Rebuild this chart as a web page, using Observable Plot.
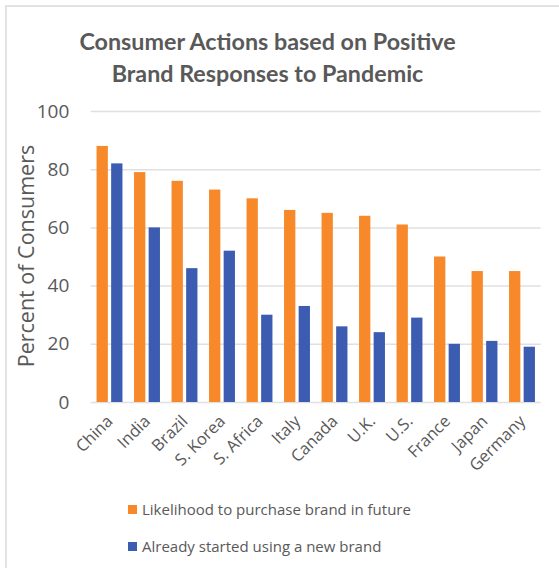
<!DOCTYPE html>
<html>
<head>
<meta charset="utf-8">
<script src="https://cdn.jsdelivr.net/npm/d3@7"></script>
<script src="https://cdn.jsdelivr.net/npm/@observablehq/plot@0.6"></script>
<style>
  html, body { margin: 0; padding: 0; background: #fff; }
  #wrap { position: relative; width: 559px; height: 568px; overflow: hidden; font-family: "Open Sans", sans-serif; color: #595959; }
  #frame { position: absolute; left: 5px; top: 5px; right: -5px; bottom: -5px; border-left: 2px solid #e2e2e2; border-top: 2px solid #e2e2e2; }
  #title { position: absolute; left: 0; top: 25px; width: 535px; text-align: center; font-family: Lato, sans-serif; font-weight: 700; font-size: 23.3px; line-height: 32px; color: #595959; }
  #chart { position: absolute; left: 0; top: 100px; }
  #ylabel { position: absolute; left: 25px; top: 256px; transform: translate(-50%, -50%) rotate(-90deg); white-space: nowrap; font-size: 21.5px; color: #595959; }
  #legend { position: absolute; left: 128px; top: 498px; font-size: 15px; color: #595959; }
  .item { display: flex; align-items: center; height: 22px; margin-bottom: 15px; }
  .sw { width: 9px; height: 9px; margin-right: 5px; }
</style>
</head>
<body>
<div id="wrap">
  <div id="frame"></div>
  <div id="title">Consumer Actions based on Positive<br>Brand Responses to Pandemic</div>
  <div id="chart"></div>
  <div id="ylabel">Percent of Consumers</div>
  <div id="legend"></div>
</div>
<script>
const countries = ["China", "India", "Brazil", "S. Korea", "S. Africa", "Italy", "Canada", "U.K.", "U.S.", "France", "Japan", "Germany"];
const likelihood = [88, 79, 76, 73, 70, 66, 65, 64, 61, 50, 45, 45];
const alreadyStarted = [82, 60, 46, 52, 30, 33, 26, 24, 29, 20, 21, 19];
const seriesNames = ["Likelihood to purchase brand in future", "Already started using a new brand"];
const seriesColors = ["#F7892A", "#3B5CB0"];
const yTicks = [0, 20, 40, 60, 80, 100];

const data = [];
countries.forEach((c, i) => {
  data.push({country: c, series: seriesNames[0], value: likelihood[i]});
  data.push({country: c, series: seriesNames[1], value: alreadyStarted[i]});
});

const chart = Plot.plot({
  width: 559,
  height: 390,
  marginLeft: 90.75,
  marginRight: 18.25,
  marginTop: 11,
  marginBottom: 88,
  style: {fontFamily: "Open Sans, sans-serif", fontSize: "19px", color: "#595959", background: "transparent", overflow: "visible"},
  fx: {domain: countries, padding: 0, round: false, tickRotate: -45, label: null, tickSize: 0, tickPadding: 16},
  x: {domain: seriesNames, axis: null, paddingInner: 0.226, paddingOuter: 0.397, round: false},
  y: {domain: [0, 100], ticks: yTicks, tickSize: 0, tickPadding: 22, label: null},
  color: {domain: seriesNames, range: seriesColors},
  marks: [
    Plot.ruleY(yTicks, {stroke: "#e0e0e0", strokeWidth: 1.5}),
    Plot.barY(data, {fx: "country", x: "series", y: "value", fill: "series"})
  ]
});
document.getElementById("chart").appendChild(chart);

d3.select(chart).selectAll('[aria-label^="fx-axis"] text').style("font-size", "16.5px");

const legend = d3.select("#legend");
seriesNames.forEach((s, i) => {
  const it = legend.append("div").attr("class", "item");
  it.append("div").attr("class", "sw").style("background", seriesColors[i]);
  it.append("span").text(s);
});
</script>
</body>
</html>
